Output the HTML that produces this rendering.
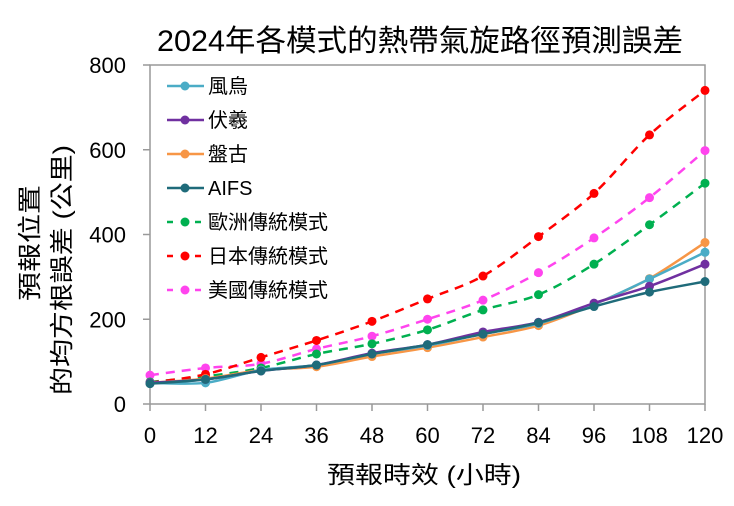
<!DOCTYPE html>
<html><head><meta charset="utf-8"><style>
body{margin:0;background:#fff}
svg text{font-family:"Liberation Sans","Noto Sans CJK TC",sans-serif;fill:#000}
</style></head><body>
<svg id="s" width="734" height="501" viewBox="0 0 734 501" xmlns="http://www.w3.org/2000/svg">
<text x="420" y="51" font-size="30" text-anchor="middle" textLength="526" lengthAdjust="spacingAndGlyphs">2024年各模式的熱帶氣旋路徑預測誤差</text>
<rect x="150" y="65" width="555" height="339" fill="none" stroke="#999" stroke-width="1.5"/>
<g id="ticks" stroke="#999" stroke-width="1.5"></g>
<g id="lbl" font-size="22"></g>
<text transform="translate(38,243) rotate(-90)" font-size="24" text-anchor="middle" textLength="116" lengthAdjust="spacingAndGlyphs">預報位置</text>
<text transform="translate(70,270) rotate(-90)" font-size="24" text-anchor="middle" textLength="250" lengthAdjust="spacingAndGlyphs">的均方根誤差 (公里)</text>
<text x="424" y="483" font-size="24" text-anchor="middle" textLength="194" lengthAdjust="spacingAndGlyphs">預報時效 (小時)</text>
<g id="series"></g>
<g id="legend" font-size="20"></g>
</svg>
<script>
var NS="http://www.w3.org/2000/svg";
function el(t,a,p,txt){var e=document.createElementNS(NS,t);for(var k in a)e.setAttribute(k,a[k]);if(txt!=null)e.textContent=txt;document.getElementById(p).appendChild(e);return e;}
function X(i){return 150+i*55.5;}function Y(v){return 404-v*0.42375;}
for(var i=0;i<=10;i++){el('line',{x1:X(i),x2:X(i),y1:404,y2:411},'ticks');el('text',{x:X(i),y:443,'text-anchor':'middle'},'lbl',String(i*12));}
for(var v=0;v<=800;v+=200){el('line',{x1:143,x2:150,y1:Y(v),y2:Y(v)},'ticks');el('text',{x:126,y:Y(v)+8,'text-anchor':'end'},'lbl',String(v));}
var S=[
["美國傳統模式","#ff44ee",1,[68,85,95,130,160,200,245,310,392,487,598]],
["歐洲傳統模式","#00b050",1,[52,65,85,118,142,175,222,258,330,423,521]],
["日本傳統模式","#ff0000",1,[50,70,110,150,195,248,302,395,497,635,740]],
["盤古","#f79646",0,[50,60,80,88,112,133,158,185,235,296,381]],
["風烏","#4bacc6",0,[50,50,80,92,118,138,165,190,235,295,358]],
["伏羲","#7030a0",0,[50,58,78,92,120,140,170,193,238,278,330]],
["AIFS","#1f6b7a",0,[48,58,78,92,118,140,165,192,230,264,289]]];
S.forEach(function(s){
 var p=s[3].map(function(v,i){return [X(i),Y(v)];});
 var d="M"+p[0][0]+","+p[0][1];
 for(var i=0;i<p.length-1;i++){var p0=p[i-1]||p[i],p1=p[i],p2=p[i+1],p3=p[i+2]||p2;var t=0.16;
  d+=" C"+(p1[0]+(p2[0]-p0[0])*t)+","+(p1[1]+(p2[1]-p0[1])*t)+" "+(p2[0]-(p3[0]-p1[0])*t)+","+(p2[1]-(p3[1]-p1[1])*t)+" "+p2[0]+","+p2[1];}
 var a={d:d,fill:"none",stroke:s[1],"stroke-width":2.5};if(s[2])a["stroke-dasharray"]="9,7";
 el('path',a,'series');
 p.forEach(function(q){el('circle',{cx:q[0],cy:q[1],r:4.5,fill:s[1]},'series');});
});
var L=[["風烏","#4bacc6",0],["伏羲","#7030a0",0],["盤古","#f79646",0],["AIFS","#1f6b7a",0],["歐洲傳統模式","#00b050",1],["日本傳統模式","#ff0000",1],["美國傳統模式","#ff44ee",1]];
L.forEach(function(l,i){var y=86+i*34;
 var a={x1:167,x2:204,y1:y,y2:y,stroke:l[1],"stroke-width":2.5};if(l[2])a["stroke-dasharray"]="6,8";
 el('line',a,'legend');el('circle',{cx:185,cy:y,r:4.5,fill:l[1]},'legend');
 el('text',{x:208,y:y+7},'legend',l[0]);});
</script>
</body></html>
